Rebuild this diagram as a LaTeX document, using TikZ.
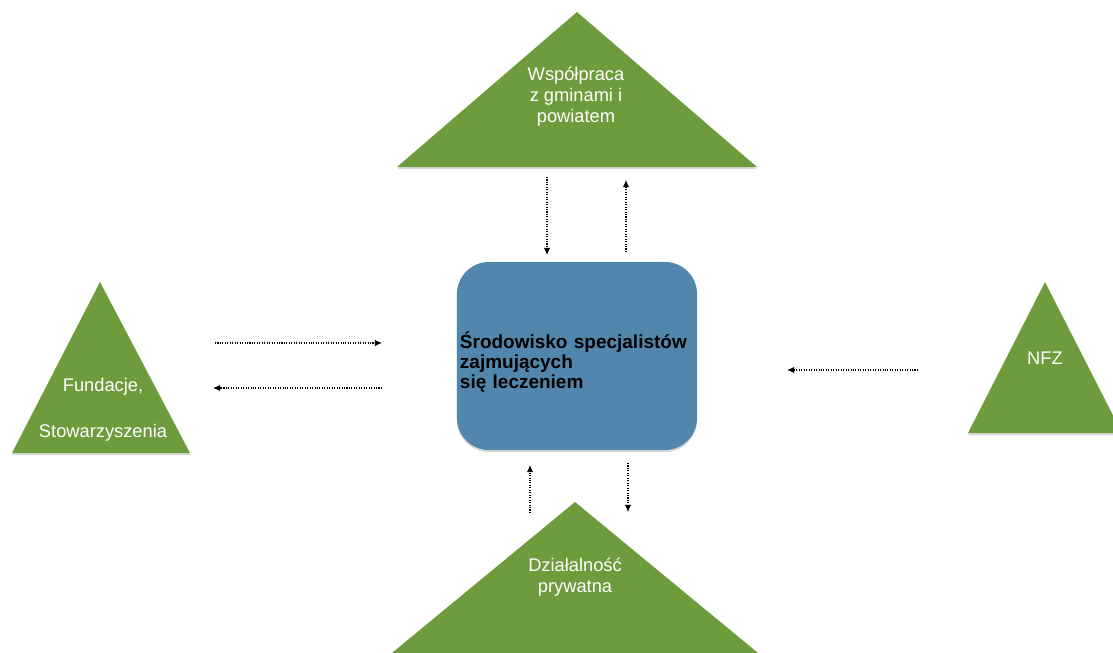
\documentclass[tikz,border=0pt]{standalone}
\usepackage{fontspec}
\setmainfont{Liberation Sans}
\usepackage{xcolor}
\usetikzlibrary{arrows.meta,positioning,calc,shadows}
\definecolor{grassgreen}{RGB}{110,156,60}
\definecolor{steelblue}{RGB}{82,134,172}
\tikzset{
  tri/.style={fill=grassgreen, drop shadow={shadow xshift=0pt, shadow yshift=-1.5pt, opacity=0.3}},
  trilabel/.style={text=white, align=center, font=\fontsize{13}{15}\selectfont, inner sep=0pt},
  core/.style={fill=steelblue, rounded corners=0.8cm, minimum width=6cm, minimum height=4.7cm,
    drop shadow={shadow xshift=0pt, shadow yshift=-1.5pt, opacity=0.3}},
  coretext/.style={text width=5.8cm, align=left, inner sep=0pt, font=\fontsize{13.5}{14}\selectfont\bfseries},
  link/.style={-{Latex[length=5pt,width=4.5pt]}, densely dotted, line width=0.75pt}
}
\begin{document}
\begin{tikzpicture}[x=0.025cm, y=-0.025cm]
  \useasboundingbox (0,0) rectangle (1113,652);
  \clip (0,0) rectangle (1113,652);
  % triangles
  \path[tri] (577,12) -- (757,167) -- (397,167) -- cycle;
  \path[tri] (100,282) -- (190,453) -- (12,453) -- cycle;
  \path[tri] (1045,282) -- (1122,433) -- (968,433) -- cycle;
  \path[tri] (575,502) -- (769,662) -- (381,662) -- cycle;
  \node[trilabel] (wsp) at (576,97) {Współpraca\\z gminami i\\powiatem};
  \node[trilabel] (fund) at (103,410) {Fundacje,\\[18pt]Stowarzyszenia};
  \node[trilabel] (nfz) at (1045,358) {NFZ};
  \node[trilabel] (dzial) at (575,577) {Działalność\\prywatna};
  % centre
  \node[core] (srod) at (577,356) {};
  \node[coretext] (srodtxt) at (576,362) {Środowisko specjalistów\\zajmujących\\się leczeniem};
  % arrow ends
  \coordinate (wsp-a) at (547,177);  \coordinate (srod-ta) at (547,255);
  \coordinate (srod-tb) at (626,252); \coordinate (wsp-b) at (626,180);
  \coordinate (fund-a) at (215,343); \coordinate (srod-la) at (382,343);
  \coordinate (srod-lb) at (382,388); \coordinate (fund-b) at (213,388);
  \coordinate (nfz-a) at (918,370);  \coordinate (srod-r) at (787,370);
  \coordinate (dzial-a) at (530,513); \coordinate (srod-ba) at (530,465);
  \coordinate (srod-bb) at (628,463); \coordinate (dzial-b) at (628,512);
  \draw[link] (wsp-a) -- (srod-ta);
  \draw[link] (srod-tb) -- (wsp-b);
  \draw[link] (fund-a) -- (srod-la);
  \draw[link] (srod-lb) -- (fund-b);
  \draw[link] (nfz-a) -- (srod-r);
  \draw[link] (dzial-a) -- (srod-ba);
  \draw[link] (srod-bb) -- (dzial-b);
\end{tikzpicture}
\end{document}
